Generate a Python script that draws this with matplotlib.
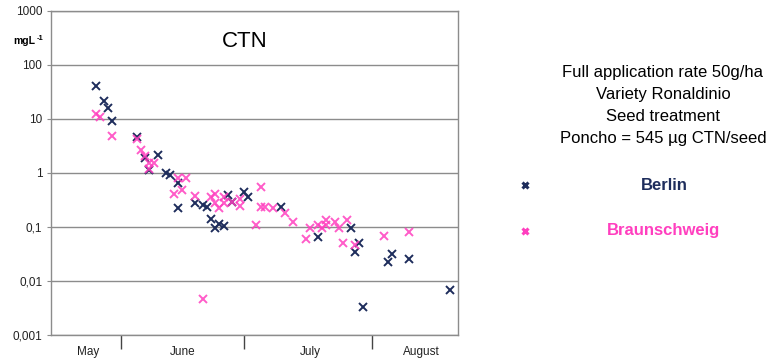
import numpy as np
import matplotlib
matplotlib.use("Agg")
import matplotlib.pyplot as plt
import matplotlib.dates as mdates
from matplotlib.ticker import FixedLocator, FixedFormatter, NullLocator

plt.rcParams['font.family'] = ['Liberation Sans', 'DejaVu Sans']

# Guttation concentrations of clothianidin (mg/L) by sampling date
berlin_dates = ['2008-05-26', '2008-05-28', '2008-05-29', '2008-05-30', '2008-06-05',
                '2008-06-10', '2008-06-07', '2008-06-08', '2008-06-12', '2008-06-13',
                '2008-06-15', '2008-06-15', '2008-06-19', '2008-06-21', '2008-06-22',
                '2008-06-23', '2008-06-24', '2008-06-25', '2008-06-26', '2008-06-27',
                '2008-06-28', '2008-07-01', '2008-07-02', '2008-07-10', '2008-07-19',
                '2008-07-27', '2008-07-29', '2008-07-28', '2008-07-30', '2008-08-05',
                '2008-08-06', '2008-08-10', '2008-08-20']
berlin_values = [40, 21, 16, 9.2, 4.6,
                 2.1, 1.85, 1.1, 1.0, 0.9,
                 0.64, 0.22, 0.27, 0.25, 0.23,
                 0.14, 0.093, 0.112, 0.103, 0.39,
                 0.29, 0.44, 0.36, 0.23, 0.064,
                 0.096, 0.05, 0.034, 0.0033, 0.022,
                 0.031, 0.025, 0.0067]

braunschweig_dates = ['2008-05-26', '2008-05-27', '2008-05-30', '2008-06-05', '2008-06-06',
                      '2008-06-07', '2008-06-08', '2008-06-09', '2008-06-08', '2008-06-15',
                      '2008-06-17', '2008-06-14', '2008-06-16', '2008-06-19', '2008-06-23',
                      '2008-06-24', '2008-06-26', '2008-06-24', '2008-06-26', '2008-06-28',
                      '2008-06-30', '2008-06-30', '2008-06-25', '2008-06-21', '2008-07-05',
                      '2008-07-05', '2008-07-06', '2008-07-08', '2008-07-04', '2008-07-11',
                      '2008-07-13', '2008-07-16', '2008-07-17', '2008-07-19', '2008-07-20',
                      '2008-07-21', '2008-07-21', '2008-07-23', '2008-07-24', '2008-07-26',
                      '2008-07-25', '2008-07-28', '2008-08-04', '2008-08-10']
braunschweig_values = [12, 11, 4.8, 4.3, 2.6,
                       2.0, 1.5, 1.5, 1.15, 0.79,
                       0.79, 0.41, 0.48, 0.37, 0.36,
                       0.41, 0.36, 0.27, 0.27, 0.29,
                       0.32, 0.24, 0.22, 0.0046, 0.55,
                       0.235, 0.23, 0.225, 0.108, 0.18,
                       0.124, 0.059, 0.093, 0.108, 0.093,
                       0.133, 0.108, 0.124, 0.093, 0.133,
                       0.05, 0.046, 0.067, 0.081]

y_ticks = [1000, 100, 10, 1, 0.1, 0.01, 0.001]
y_tick_labels = ['1000', '100', '10', '1', '0,1', '0,01', '0,001']
month_bounds = ['2008-06-01', '2008-07-01', '2008-08-01']
month_names = ['May', 'June', 'July', 'August']
month_label_dates = ['2008-05-24', '2008-06-16', '2008-07-17', '2008-08-13']

info_lines = ['Full application rate 50g/ha', 'Variety Ronaldinio',
              'Seed treatment', 'Poncho = 545 µg CTN/seed']

navy = '#1e2d5c'
pink = '#ff3fbf'
grey = '#8c8c8c'

fig = plt.figure(figsize=(7.73, 3.58), dpi=100)
ax = fig.add_axes([0.0656, 0.065, 0.527, 0.905])

to_num = lambda ds: mdates.date2num(np.array(ds, dtype='datetime64[D]'))

ax.plot(to_num(berlin_dates), berlin_values, linestyle='none', marker='x',
        ms=6, mew=1.4, color=navy, zorder=3)
ax.plot(to_num(braunschweig_dates), braunschweig_values, linestyle='none', marker='x',
        ms=6, mew=1.4, color=pink, alpha=0.85, zorder=3)

ax.set_yscale('log')
ax.set_ylim(0.001, 1000)
ax.set_xlim(to_num(['2008-05-15'])[0], to_num(['2008-08-22'])[0])

ax.yaxis.set_major_locator(FixedLocator(y_ticks))
ax.yaxis.set_major_formatter(FixedFormatter(y_tick_labels))
ax.yaxis.set_minor_locator(NullLocator())
ax.tick_params(axis='y', which='major', direction='out', length=3, width=0.8,
               color=grey, labelsize=8.5, pad=3, labelcolor='#222222')

ax.xaxis.set_major_locator(FixedLocator(to_num(month_bounds)))
ax.xaxis.set_major_formatter(FixedFormatter(['', '', '']))
ax.xaxis.set_minor_locator(FixedLocator(to_num(month_label_dates)))
ax.xaxis.set_minor_formatter(FixedFormatter(month_names))
ax.tick_params(axis='x', which='major', direction='out', length=10, width=1.0,
               color='#444444')
ax.tick_params(axis='x', which='minor', length=0, labelsize=8.5, pad=8,
               labelcolor='#222222')

ax.grid(True, axis='y', which='major', color=grey, linewidth=1.0)
ax.set_axisbelow(True)
for s in ax.spines.values():
    s.set_color(grey)
    s.set_linewidth(1.0)

# Title inside the plot
ax.text(0.477, 0.905, 'CTN', transform=ax.transAxes, ha='center', va='center',
        fontsize=16, color='black')

# Unit label above the axis
fig.text(13 / 773, 1 - 41 / 358, 'mgL', fontsize=7.5, fontweight='bold',
         ha='left', va='center')
fig.text(37 / 773, 1 - 38 / 358, '-1', fontsize=5.5, fontweight='bold',
         ha='left', va='center')

# Description block
for i, line in enumerate(info_lines):
    fig.text(663 / 773, 1 - (72 + 22.3 * i) / 358, line, fontsize=12,
             ha='center', va='center', color='black')

# Legend entries
for y_px, label, col in [(185, 'Berlin', navy), (231, 'Braunschweig', pink)]:
    fig.lines.append(plt.Line2D([525 / 773], [1 - y_px / 358], marker='x', ms=5,
                                mew=2.2, color=col, linestyle='none',
                                transform=fig.transFigure))
    fig.text(664 / 773, 1 - y_px / 358, label, fontsize=12, fontweight='bold',
             ha='center', va='center', color=col)

fig.savefig('out.png', dpi=100)
